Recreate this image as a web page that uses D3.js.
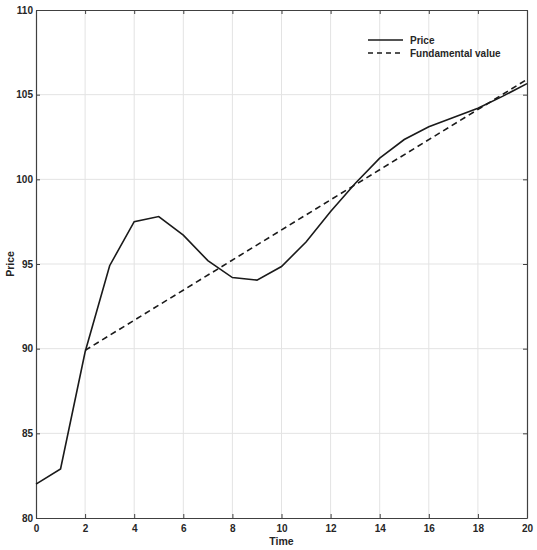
<!DOCTYPE html>
<html>
<head>
<meta charset="utf-8">
<script src="https://cdn.jsdelivr.net/npm/d3@7"></script>
<style>
  body { margin: 0; background: #fff; }
  text { font-family: "Liberation Sans", Arial, sans-serif; font-weight: bold; fill: #262626; }
</style>
</head>
<body>
<div id="viz"></div>
<script>
var width = 537,
  height = 550;

// data
var time = [0, 1, 2, 3, 4, 5, 6, 7, 8, 9, 10, 11, 12, 13, 14, 15, 16, 17, 18, 19, 20];
var price = [82.0, 82.9, 89.8, 94.9, 97.5, 97.8, 96.7, 95.2, 94.2, 94.05, 94.85, 96.3, 98.1, 99.75, 101.25, 102.35, 103.1, 103.65, 104.2, 104.9, 105.65];
var fundTime = [2, 20];
var fundValue = [89.9, 105.9];
var xTicks = [0, 2, 4, 6, 8, 10, 12, 14, 16, 18, 20];
var yTicks = [80, 85, 90, 95, 100, 105, 110];
var seriesNames = ['Price', 'Fundamental value'];

var margin = { left: 36, right: 10, top: 10, bottom: 32 };
var x = d3.scaleLinear().domain([0, 20]).range([margin.left, width - margin.right]);
var y = d3.scaleLinear().domain([80, 110]).range([height - margin.bottom, margin.top]);

var axisColor = '#404040';
var textColor = '#262626';
var gridColor = '#e3e3e3';

var svg = d3.select('#viz').append('svg')
  .attr('width', width)
  .attr('height', height);

// grid
svg.append('g').selectAll('line.gx')
  .data(xTicks.slice(1, -1))
  .enter().append('line')
  .attr('x1', function (d) { return x(d); })
  .attr('x2', function (d) { return x(d); })
  .attr('y1', y(80))
  .attr('y2', y(110))
  .attr('stroke', gridColor)
  .attr('stroke-width', 1);

svg.append('g').selectAll('line.gy')
  .data(yTicks.slice(1, -1))
  .enter().append('line')
  .attr('x1', x(0))
  .attr('x2', x(20))
  .attr('y1', function (d) { return y(d); })
  .attr('y2', function (d) { return y(d); })
  .attr('stroke', gridColor)
  .attr('stroke-width', 1);

// axes (ticks inside)
var xAxis = svg.append('g')
  .attr('transform', 'translate(0,' + y(80) + ')')
  .call(d3.axisBottom(x).tickValues(xTicks).tickSizeInner(-4).tickSizeOuter(0).tickPadding(7));

var xAxisTop = svg.append('g')
  .attr('transform', 'translate(0,' + y(110) + ')')
  .call(d3.axisTop(x).tickValues(xTicks).tickSizeInner(-4).tickSizeOuter(0).tickFormat(''));

var yAxis = svg.append('g')
  .attr('transform', 'translate(' + x(0) + ',0)')
  .call(d3.axisLeft(y).tickValues(yTicks).tickSizeInner(-4).tickSizeOuter(0).tickPadding(3));

var yAxisRight = svg.append('g')
  .attr('transform', 'translate(' + x(20) + ',0)')
  .call(d3.axisRight(y).tickValues(yTicks).tickSizeInner(-4).tickSizeOuter(0).tickFormat(''));

[xAxis, xAxisTop, yAxis, yAxisRight].forEach(function (g) {
  g.select('.domain').attr('stroke', axisColor).attr('stroke-width', 1.2);
  g.selectAll('.tick line').attr('stroke', axisColor).attr('stroke-width', 1);
  g.selectAll('.tick text')
    .attr('fill', textColor)
    .style('font-family', '"Liberation Sans", Arial, sans-serif')
    .style('font-weight', 'bold')
    .style('font-size', '10px');
});

// lines
var priceLine = d3.line()
  .x(function (d, i) { return x(time[i]); })
  .y(function (d) { return y(d); });

svg.append('path')
  .datum(price)
  .attr('d', priceLine)
  .attr('fill', 'none')
  .attr('stroke', '#1a1a1a')
  .attr('stroke-width', 1.6);

var fundLine = d3.line()
  .x(function (d, i) { return x(fundTime[i]); })
  .y(function (d) { return y(d); });

svg.append('path')
  .datum(fundValue)
  .attr('d', fundLine)
  .attr('fill', 'none')
  .attr('stroke', '#1a1a1a')
  .attr('stroke-width', 1.6)
  .attr('stroke-dasharray', '6,4');

// legend
var legend = svg.append('g').attr('transform', 'translate(368,40)');
seriesNames.forEach(function (name, i) {
  var row = legend.append('g').attr('transform', 'translate(0,' + (i * 13) + ')');
  row.append('line')
    .attr('x1', 0)
    .attr('x2', 35)
    .attr('y1', 0)
    .attr('y2', 0)
    .attr('stroke', '#1a1a1a')
    .attr('stroke-width', 1.4)
    .attr('stroke-dasharray', i === 1 ? '5,4' : null);
  row.append('text')
    .attr('x', 42)
    .attr('y', 3.5)
    .style('font-size', '10px')
    .text(name);
});

// axis labels
svg.append('text')
  .attr('x', (x(0) + x(20)) / 2)
  .attr('y', 545)
  .attr('text-anchor', 'middle')
  .style('font-size', '10.5px')
  .text('Time');

svg.append('text')
  .attr('transform', 'translate(14,' + y(95) + ') rotate(-90)')
  .attr('text-anchor', 'middle')
  .style('font-size', '10.5px')
  .text('Price');
</script>
</body>
</html>
